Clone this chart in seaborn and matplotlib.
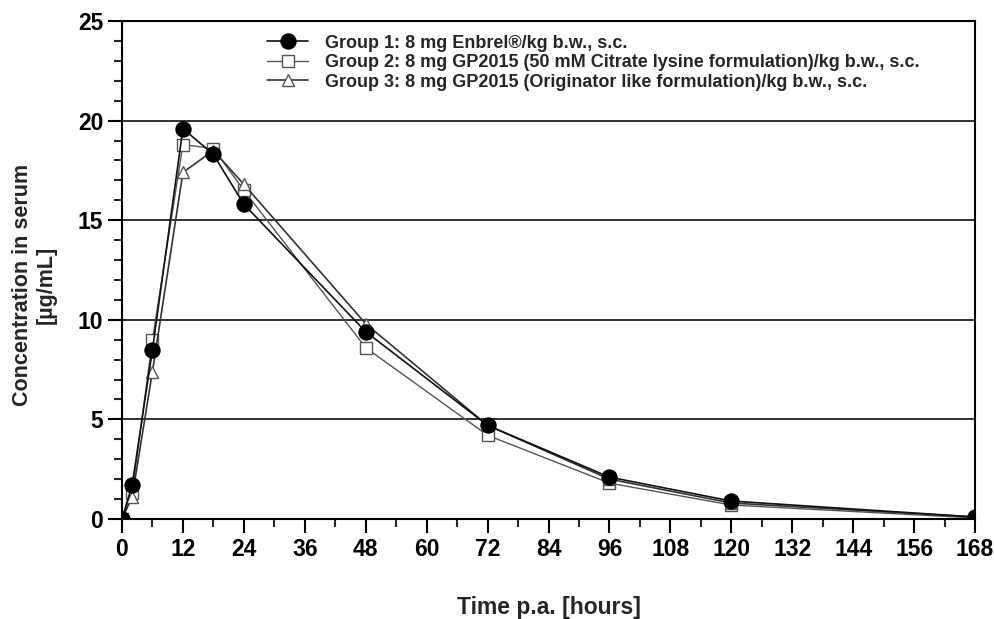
import matplotlib
matplotlib.use("Agg")
import matplotlib.pyplot as plt
import seaborn as sns
import pandas as pd
from matplotlib.ticker import MultipleLocator

time_h = [0, 2, 6, 12, 18, 24, 48, 72, 96, 120, 168]
group1 = [0.0, 1.7, 8.5, 19.6, 18.3, 15.8, 9.4, 4.7, 2.1, 0.9, 0.1]
group2 = [0.0, 1.3, 9.0, 18.8, 18.6, 16.5, 8.6, 4.2, 1.8, 0.7, 0.05]
group3 = [0.0, 1.1, 7.4, 17.4, 18.5, 16.8, 9.8, 4.7, 2.0, 0.8, 0.1]
labels = [
    "Group 1: 8 mg Enbrel®/kg b.w., s.c.",
    "Group 2: 8 mg GP2015 (50 mM Citrate lysine formulation)/kg b.w., s.c.",
    "Group 3: 8 mg GP2015 (Originator like formulation)/kg b.w., s.c.",
]
x_ticks = list(range(0, 169, 12))
y_ticks = [0, 5, 10, 15, 20, 25]

sns.set_style("white")
plt.rcParams['font.family'] = ['Liberation Sans', 'DejaVu Sans']
plt.rcParams['font.weight'] = 'bold'

fig = plt.figure(figsize=(9.95, 6.19), dpi=100)
ax = fig.add_axes([0.1226, 0.1616, 0.98 - 0.1226, 0.966 - 0.1616])

for yv in [5, 10, 15, 20]:
    ax.axhline(yv, color="#222222", lw=1.3, zorder=0)

df1 = pd.DataFrame({"t": time_h, "c": group1})
df2 = pd.DataFrame({"t": time_h, "c": group2})
df3 = pd.DataFrame({"t": time_h, "c": group3})

sns.lineplot(data=df1, x="t", y="c", ax=ax, color="#111111", lw=1.2,
             marker="o", markersize=11, markerfacecolor="black",
             markeredgecolor="black", label=labels[0], zorder=4)
sns.lineplot(data=df2, x="t", y="c", ax=ax, color="#555555", lw=1.0,
             marker="s", markersize=8, markerfacecolor="white",
             markeredgecolor="#555555", markeredgewidth=1.0, label=labels[1], zorder=3)
sns.lineplot(data=df3, x="t", y="c", ax=ax, color="#333333", lw=1.2,
             marker="^", markersize=9, markerfacecolor="white",
             markeredgecolor="#555555", markeredgewidth=1.0, label=labels[2], zorder=3)

ax.set_xlim(0, 168)
ax.set_ylim(0, 25)
ax.set_xticks(x_ticks)
ax.set_yticks(y_ticks)
ax.xaxis.set_minor_locator(MultipleLocator(6))
ax.yaxis.set_minor_locator(MultipleLocator(1))
ax.tick_params(axis="both", which="major", direction="out", length=10, width=1.5,
               labelsize=16.5, colors="black", bottom=True, left=True)
ax.tick_params(axis="both", which="minor", direction="out", length=6, width=1.5,
               bottom=True, left=True)
for lab in ax.get_xticklabels() + ax.get_yticklabels():
    lab.set_fontweight("bold")
for sp in ax.spines.values():
    sp.set_visible(True)
    sp.set_color("black")
    sp.set_linewidth(1.5)

ax.set_xlabel("Time p.a. [hours]", fontsize=16.5, fontweight="bold")
ax.xaxis.set_label_coords(0.5, -0.155)
ax.set_ylabel("Concentration in serum\n[µg/mL]", fontsize=15.5, fontweight="bold")
ax.yaxis.set_label_coords(-0.076, 0.47)

leg = ax.legend(loc="upper left", bbox_to_anchor=(0.155, 0.998), frameon=False,
                fontsize=13, handlelength=2.3, labelspacing=0.14, borderaxespad=0.3,
                handletextpad=0.9)
for t in leg.get_texts():
    t.set_fontweight("bold")

fig.savefig("out.png", dpi=100)
